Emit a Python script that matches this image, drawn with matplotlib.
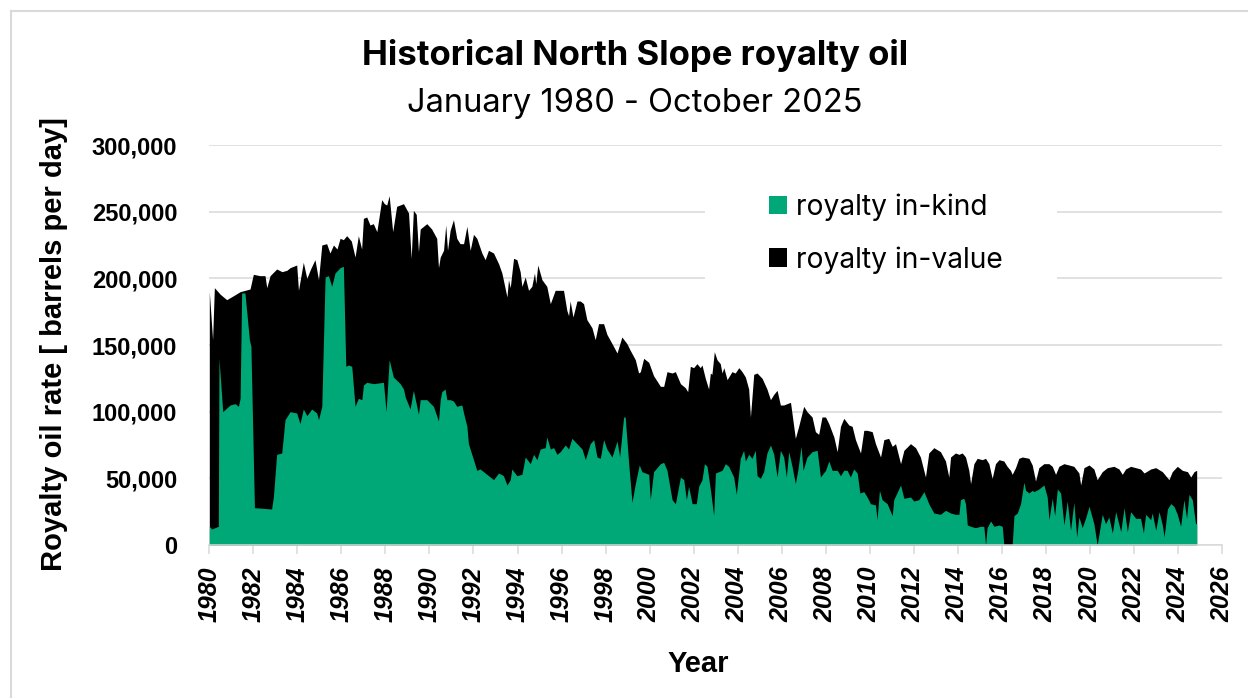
import numpy as np
import matplotlib
matplotlib.use("Agg")
import matplotlib.pyplot as plt
from matplotlib.patches import Patch, Rectangle
from matplotlib.lines import Line2D

# ---------------- data (thousand barrels per day) ----------------
total_years = [
    1980.00, 1980.15, 1980.23, 1980.50, 1980.79, 1981.10, 1981.40, 1981.85, 1982.00, 1982.30,
    1982.53, 1982.61, 1982.76, 1983.06, 1983.30, 1983.52, 1983.67, 1983.97, 1984.05, 1984.27,
    1984.43, 1984.60, 1984.80, 1984.96, 1985.11, 1985.33, 1985.48, 1985.64, 1985.80, 1985.94,
    1986.09, 1986.24, 1986.45, 1986.62, 1986.77, 1986.92, 1987.00, 1987.15, 1987.30, 1987.45,
    1987.61, 1987.83, 1987.95, 1988.06, 1988.17, 1988.33, 1988.51, 1988.82, 1989.05, 1989.17,
    1989.27, 1989.40, 1989.50, 1989.58, 1989.88, 1990.10, 1990.33, 1990.41,
    1990.49, 1990.64, 1990.74, 1990.82, 1990.94, 1991.09, 1991.24, 1991.39, 1991.55, 1991.70,
    1991.85, 1992.00, 1992.15, 1992.38, 1992.53, 1992.68, 1992.91, 1993.14, 1993.29, 1993.52,
    1993.59, 1993.67, 1993.82, 1993.97, 1994.12, 1994.20, 1994.35, 1994.50, 1994.65, 1994.77,
    1994.83, 1994.92, 1995.11, 1995.33, 1995.49, 1995.71, 1995.94, 1996.09, 1996.24, 1996.32,
    1996.39, 1996.52, 1996.70, 1996.85, 1997.00, 1997.15, 1997.38, 1997.53, 1997.68, 1997.91,
    1998.06, 1998.36, 1998.52, 1998.74, 1998.97, 1999.12, 1999.35, 1999.50, 1999.58, 1999.73,
    1999.96, 2000.18, 2000.49, 2000.64, 2000.79, 2001.02, 2001.17,
    2001.40, 2001.62, 2001.73, 2001.85, 2002.00, 2002.15, 2002.30, 2002.38, 2002.53, 2002.68,
    2002.76, 2002.83, 2002.94, 2003.06, 2003.21, 2003.29, 2003.37, 2003.52, 2003.74, 2003.89,
    2004.05, 2004.20, 2004.35, 2004.50, 2004.58, 2004.73, 2004.88, 2005.11, 2005.33, 2005.49,
    2005.64, 2005.79, 2005.94, 2006.09, 2006.24, 2006.40, 2006.62, 2006.77, 2007.00, 2007.15,
    2007.38, 2007.53, 2007.68, 2007.83, 2007.99, 2008.14, 2008.37, 2008.52, 2008.67, 2008.82,
    2009.05, 2009.20, 2009.35, 2009.58, 2009.73, 2009.88, 2010.11, 2010.26, 2010.49, 2010.64,
    2010.86, 2011.02, 2011.17, 2011.40, 2011.55, 2011.85, 2012.08, 2012.30, 2012.53, 2012.68,
    2012.91, 2013.21, 2013.44, 2013.59,
    2013.67, 2013.89, 2014.05, 2014.20, 2014.35, 2014.50, 2014.58, 2014.73, 2014.88, 2015.11,
    2015.26, 2015.41, 2015.56, 2015.71, 2015.87, 2016.09, 2016.24, 2016.39, 2016.47, 2016.62,
    2016.77, 2016.93, 2017.23, 2017.38, 2017.53, 2017.68, 2017.91, 2018.14, 2018.29, 2018.44,
    2018.59, 2018.82, 2019.05, 2019.27, 2019.50, 2019.58, 2019.73, 2019.96, 2020.18, 2020.33,
    2020.56, 2020.79, 2021.09, 2021.32, 2021.47, 2021.62, 2021.85, 2022.08, 2022.30, 2022.46,
    2022.76, 2022.99, 2023.29, 2023.59, 2023.74, 2023.97, 2024.20, 2024.43, 2024.58, 2024.73,
    2024.85,
]
total_kbpd = [
    190, 154, 193, 188, 184, 187, 190, 192, 203, 202,
    202, 193, 202, 207, 205, 206, 208, 210, 191, 212,
    200, 207, 214, 199, 225, 226, 219, 225, 222, 230,
    229, 232, 228, 216, 232, 222, 245, 246, 240, 241,
    235, 259, 256, 255, 262, 235, 254, 256, 249, 215,
    251, 248, 220, 237, 241, 237, 230, 208,
    216, 221, 240, 221, 236, 244, 230, 226, 226, 239,
    221, 233, 230, 219, 214, 221, 219, 211, 204, 186,
    199, 193, 215, 214, 205, 194, 201, 191, 194, 204,
    196, 210, 199, 194, 181, 191, 191, 191, 176, 172,
    183, 171, 183, 183, 181, 169, 163, 154, 166, 166,
    158, 149, 144, 156, 151, 146, 139, 129, 130, 140,
    137, 127, 119, 119, 130, 129, 130,
    121, 118, 115, 134, 133, 136, 133, 135, 125, 117,
    129, 128, 145, 139, 136, 129, 133, 124, 130, 129,
    133, 130, 126, 117, 96, 128, 129, 125, 117, 109,
    113, 116, 105, 105, 106, 107, 80, 89, 104, 100,
    96, 85, 83, 96, 96, 91, 81, 70, 89, 95,
    90, 89, 79, 69, 86, 86, 85, 76, 66, 79,
    80, 74, 76, 61, 71, 76, 73, 66, 51, 69,
    73, 70, 63, 51,
    66, 69, 68, 69, 66, 56, 46, 61, 65, 64,
    65, 61, 50, 61, 64, 63, 59, 56, 53, 58,
    65, 66, 65, 60, 48, 58, 61, 61, 59, 53,
    59, 61, 60, 59, 54, 45, 58, 60, 57, 49,
    55, 58, 59, 57, 53, 57, 59, 58, 57, 54,
    57, 58, 55, 49, 55, 59, 56, 55, 51, 55,
    56,
]

inkind_years = [
    1980.00, 1980.11, 1980.41, 1980.44, 1980.61, 1980.94, 1981.17, 1981.32, 1981.40, 1981.47,
    1981.62, 1981.82, 1981.89, 1982.05, 1982.83, 1982.91, 1983.06, 1983.29, 1983.44, 1983.67,
    1983.97, 1984.12, 1984.27, 1984.43, 1984.65, 1984.88, 1984.96, 1985.11, 1985.26, 1985.41,
    1985.56, 1985.71, 1985.94, 1986.09, 1986.20, 1986.32, 1986.47, 1986.62, 1986.77, 1986.93,
    1987.00, 1987.15, 1987.46, 1987.91, 1988.03, 1988.17, 1988.36, 1988.67, 1988.82, 1988.90,
    1989.12, 1989.27, 1989.50, 1989.58, 1989.88, 1990.18, 1990.41,
    1990.49, 1990.56, 1990.71, 1990.79, 1990.94, 1991.09, 1991.24, 1991.47, 1991.55, 1991.70,
    1991.77, 1992.00, 1992.15, 1992.30, 1992.53, 1992.76, 1992.91, 1993.14, 1993.36, 1993.52,
    1993.67, 1993.74, 1993.97, 1994.20, 1994.35, 1994.58, 1994.73, 1994.88, 1995.03, 1995.26,
    1995.33, 1995.49, 1995.64, 1995.79, 1995.94, 1996.17, 1996.32, 1996.47, 1996.70, 1996.93,
    1997.08, 1997.30, 1997.46, 1997.61, 1997.76, 1997.91, 1998.06, 1998.29, 1998.52, 1998.64,
    1998.82, 1998.89, 1999.05, 1999.20, 1999.35, 1999.53, 1999.65, 1999.96, 2000.03, 2000.18,
    2000.49, 2000.64, 2000.79, 2001.02, 2001.17,
    2001.40, 2001.55, 2001.67, 2001.77, 2001.93, 2002.12, 2002.23, 2002.38, 2002.49, 2002.61,
    2002.79, 2002.91, 2002.99, 2003.14, 2003.29, 2003.44, 2003.59, 2003.82, 2003.94, 2004.12,
    2004.27, 2004.35, 2004.50, 2004.65, 2004.80, 2004.88, 2005.03, 2005.18, 2005.33, 2005.49,
    2005.64, 2005.79, 2005.94, 2006.09, 2006.21, 2006.32, 2006.47, 2006.62, 2006.73, 2006.88,
    2006.97, 2007.15, 2007.38, 2007.61, 2007.76, 2007.99, 2008.14, 2008.29, 2008.52, 2008.67,
    2008.82, 2008.97, 2009.12, 2009.27, 2009.43, 2009.55, 2009.73, 2009.88, 2010.03, 2010.26,
    2010.33, 2010.44, 2010.56, 2010.79, 2011.02, 2011.09, 2011.40, 2011.55, 2011.85, 2012.00,
    2012.23, 2012.46, 2012.68, 2012.91, 2013.21, 2013.44,
    2013.67, 2013.89, 2014.05, 2014.12, 2014.27, 2014.35, 2014.43, 2014.58, 2014.80, 2015.03,
    2015.18, 2015.26, 2015.33, 2015.49, 2015.64, 2015.87, 2016.02, 2016.09, 2016.47, 2016.55,
    2016.70, 2016.85, 2017.00, 2017.08, 2017.23, 2017.38, 2017.46, 2017.68, 2017.91, 2018.06,
    2018.14, 2018.29, 2018.40, 2018.52, 2018.67, 2018.82, 2018.97, 2019.12, 2019.27, 2019.40,
    2019.50, 2019.65, 2019.80, 2019.96, 2020.18, 2020.33, 2020.56, 2020.71, 2020.86, 2021.02,
    2021.17, 2021.40, 2021.55, 2021.70, 2021.85, 2022.08, 2022.30, 2022.43, 2022.53, 2022.76,
    2022.83, 2022.99, 2023.14, 2023.29, 2023.37, 2023.52, 2023.67, 2023.82, 2023.97, 2024.12,
    2024.27, 2024.39, 2024.50, 2024.65, 2024.80, 2024.85,
]
inkind_kbpd = [
    14, 12, 14, 140, 100, 105, 106, 104, 110, 189,
    189, 154, 149, 28, 27, 36, 68, 69, 94, 100,
    99, 91, 102, 97, 102, 99, 94, 104, 201, 202,
    194, 204, 208, 209, 134, 135, 134, 104, 110, 109,
    120, 122, 121, 122, 100, 139, 126, 121, 117, 111,
    102, 116, 98, 109, 109, 104, 93,
    109, 115, 117, 109, 109, 108, 104, 105, 99, 89,
    76, 64, 56, 57, 54, 51, 49, 54, 52, 45,
    49, 57, 52, 53, 66, 61, 68, 64, 72, 73,
    81, 72, 73, 68, 70, 75, 72, 80, 76, 72,
    64, 76, 79, 66, 65, 79, 72, 66, 78, 66,
    96, 96, 61, 32, 46, 60, 55, 53, 34, 55,
    61, 62, 56, 34, 31,
    51, 49, 34, 44, 31, 31, 44, 49, 61, 59,
    38, 22, 54, 55, 56, 61, 59, 51, 38, 65,
    71, 63, 68, 65, 71, 52, 50, 55, 69, 75,
    68, 51, 71, 66, 51, 70, 59, 46, 56, 74,
    56, 66, 70, 71, 51, 56, 63, 56, 56, 52,
    56, 56, 51, 57, 54, 39, 40, 36, 31, 30,
    19, 41, 34, 31, 22, 34, 45, 35, 36, 33,
    34, 40, 31, 24, 23, 26,
    24, 23, 23, 34, 35, 31, 15, 14, 13, 14,
    14, 0, 13, 18, 14, 15, 14, 0, 0, 22,
    24, 31, 47, 41, 39, 41, 40, 42, 45, 36,
    19, 35, 22, 42, 39, 15, 33, 11, 32, 6,
    21, 13, 20, 29, 16, 0, 23, 16, 21, 9,
    25, 10, 28, 10, 25, 20, 20, 9, 23, 19,
    24, 11, 25, 15, 6, 27, 31, 29, 23, 14,
    34, 20, 38, 34, 16, 16,
]

series_labels = ["royalty in-kind", "royalty in-value"]
y_ticks = [0, 50000, 100000, 150000, 200000, 250000, 300000]
x_ticks = list(range(1980, 2027, 2))
title = "Historical North Slope royalty oil"
subtitle = "January 1980 - October 2025"
ylabel = "Royalty oil rate [ barrels per day]"
xlabel = "Year"

# ---------------- styling ----------------
GREEN = "#00A877"
GRID = "#d9d9d9"
W, H = 1248, 698
fig = plt.figure(figsize=(W / 100, H / 100), dpi=100)
fig.patch.set_facecolor("white")

ax_l, ax_r, ax_b, ax_t = 209.3, 1222.0, 545.0, 145.0
ax = fig.add_axes([ax_l / W, 1 - ax_b / H, (ax_r - ax_l) / W, (ax_b - ax_t) / H])

tot = np.array(total_kbpd) * 1000.0
kind = np.array(inkind_kbpd) * 1000.0
ax.fill_between(total_years, 0, tot, color="black", linewidth=0, zorder=2)
ax.fill_between(inkind_years, 0, kind, color=GREEN, linewidth=0, zorder=3)

ax.set_xlim(1980, 2026)
ax.set_ylim(0, 300000)
ax.set_xticks(x_ticks)
ax.set_yticks(y_ticks)
ax.set_yticklabels([f"{v:,}" for v in y_ticks])
ax.set_axisbelow(True)
ax.yaxis.grid(True, color=GRID, linewidth=1.1)
for s in ("top", "right", "left"):
    ax.spines[s].set_visible(False)
ax.spines["bottom"].set_color(GRID)
ax.spines["bottom"].set_linewidth(1.1)
ax.spines["bottom"].set_zorder(4)

ax.tick_params(axis="x", length=6.5, width=1.1, color=GRID, pad=9, direction="out")
ax.tick_params(axis="y", length=0, pad=23)
for lab in ax.get_xticklabels():
    lab.set_fontfamily("Liberation Sans")
    lab.set_fontweight("bold")
    lab.set_fontstyle("italic")
    lab.set_fontsize(18)
    lab.set_rotation(90)
for lab in ax.get_yticklabels():
    lab.set_fontfamily("Liberation Sans")
    lab.set_fontweight("bold")
    lab.set_fontsize(17)

# white backing behind legend (covers gridlines)
ax.add_patch(Rectangle((705 / W, 1 - 292 / H), (1057 - 705) / W, (292 - 185) / H,
                       transform=fig.transFigure, facecolor="white", edgecolor="none",
                       zorder=1.5))
handles = [Patch(facecolor=GREEN, edgecolor="none"), Patch(facecolor="black", edgecolor="none")]
leg = ax.legend(handles, series_labels, loc="center left",
                bbox_to_anchor=(769 / W, 1 - 233.5 / H), bbox_transform=fig.transFigure,
                frameon=False, prop=dict(family="Inter", size=20.3),
                handlelength=0.64, handleheight=0.64, handletextpad=0.32,
                labelspacing=0.9, borderpad=0, borderaxespad=0)

# titles
fig.text(635.5 / W, 1 - 65 / H, title, ha="center", va="baseline",
         family="Inter", weight="bold", size=25)
fig.text(634.5 / W, 1 - 111.7 / H, subtitle, ha="center", va="baseline",
         family="Inter", size=23.5)

# axis titles
fig.text(54 / W, 1 - 344 / H, ylabel, rotation=90, ha="center", va="center",
         family="Liberation Sans", weight="bold", size=21)
fig.text(698 / W, 1 - 672 / H, xlabel, ha="center", va="baseline",
         family="Liberation Sans", weight="bold", size=21)

# outer frame (top and left edges visible)
fig.add_artist(Line2D([11 / W, 11 / W], [0, 1 - 11 / H], transform=fig.transFigure,
                      color=GRID, linewidth=1.5))
fig.add_artist(Line2D([11 / W, 1], [1 - 11 / H, 1 - 11 / H], transform=fig.transFigure,
                      color=GRID, linewidth=1.5))

fig.savefig("out.png", dpi=100, facecolor="white")
